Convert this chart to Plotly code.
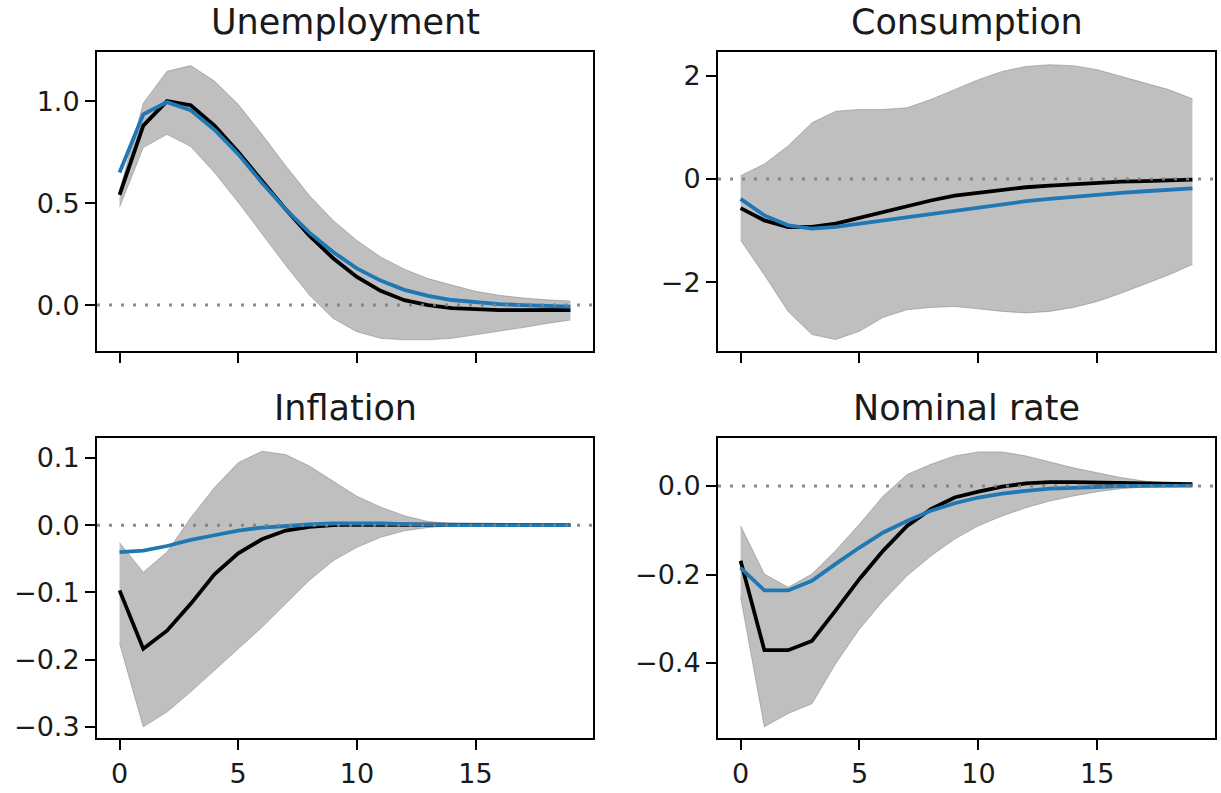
import plotly.graph_objects as go

horizon = list(range(20))

titles = ["Unemployment", "Consumption", "Inflation", "Nominal rate"]

unemp_black = [0.54, 0.88, 1.00, 0.98, 0.88, 0.75, 0.61, 0.47, 0.34, 0.23, 0.138, 0.07, 0.024, 0.0, -0.015, -0.022, -0.025, -0.025, -0.025, -0.024]
unemp_blue = [0.65, 0.935, 0.995, 0.955, 0.86, 0.74, 0.60, 0.47, 0.355, 0.26, 0.18, 0.12, 0.075, 0.045, 0.025, 0.013, 0.005, 0.0, -0.004, -0.008]
unemp_upper = [0.56, 0.99, 1.146, 1.174, 1.098, 0.984, 0.837, 0.683, 0.537, 0.415, 0.317, 0.236, 0.176, 0.13, 0.098, 0.068, 0.048, 0.035, 0.026, 0.02]
unemp_lower = [0.48, 0.772, 0.837, 0.777, 0.65, 0.504, 0.35, 0.195, 0.049, -0.065, -0.13, -0.163, -0.17, -0.17, -0.163, -0.146, -0.13, -0.11, -0.09, -0.073]

cons_black = [-0.563, -0.80, -0.928, -0.928, -0.864, -0.75, -0.627, -0.512, -0.416, -0.32, -0.27, -0.205, -0.16, -0.128, -0.10, -0.077, -0.05, -0.04, -0.026, -0.013]
cons_blue = [-0.384, -0.704, -0.896, -0.96, -0.928, -0.864, -0.80, -0.736, -0.672, -0.608, -0.544, -0.48, -0.43, -0.384, -0.34, -0.30, -0.27, -0.237, -0.205, -0.18]
cons_upper = [0.064, 0.288, 0.64, 1.088, 1.31, 1.344, 1.344, 1.376, 1.536, 1.728, 1.92, 2.08, 2.176, 2.208, 2.19, 2.112, 1.984, 1.856, 1.728, 1.549]
cons_lower = [-1.184, -1.856, -2.56, -3.008, -3.104, -2.944, -2.675, -2.528, -2.483, -2.464, -2.51, -2.56, -2.59, -2.56, -2.483, -2.368, -2.208, -2.035, -1.856, -1.651]

infl_black = [-0.097, -0.184, -0.157, -0.117, -0.073, -0.042, -0.021, -0.008, -0.0025, 0.0, 0.001, 0.001, 0.001, 0.0005, 0.0, 0.0, 0.0, 0.0, 0.0, 0.0]
infl_blue = [-0.04, -0.038, -0.031, -0.022, -0.015, -0.008, -0.0035, -0.001, 0.001, 0.0025, 0.003, 0.0025, 0.0015, 0.0005, 0.0, 0.0, 0.0, 0.0, 0.0, 0.0]
infl_upper = [-0.026, -0.07, -0.04, 0.011, 0.056, 0.093, 0.11, 0.105, 0.088, 0.066, 0.043, 0.027, 0.014, 0.0054, 0.0025, 0.001, 0.0005, 0.0, 0.0, 0.0]
infl_lower = [-0.176, -0.30, -0.278, -0.248, -0.216, -0.184, -0.152, -0.117, -0.082, -0.053, -0.033, -0.018, -0.0084, -0.0035, -0.001, -0.0005, 0.0, 0.0, 0.0, 0.0]

rate_black = [-0.169, -0.371, -0.371, -0.35, -0.281, -0.21, -0.146, -0.09, -0.0525, -0.026, -0.0128, -0.0015, 0.006, 0.009, 0.009, 0.008, 0.007, 0.005, 0.004, 0.004]
rate_blue = [-0.185, -0.236, -0.236, -0.214, -0.176, -0.139, -0.105, -0.079, -0.056, -0.039, -0.026, -0.017, -0.011, -0.006, -0.004, -0.0015, 0.0, 0.0005, 0.001, 0.001]
rate_upper = [-0.09, -0.199, -0.229, -0.199, -0.146, -0.086, -0.0225, 0.026, 0.049, 0.068, 0.077, 0.077, 0.068, 0.055, 0.041, 0.03, 0.019, 0.011, 0.007, 0.005]
rate_lower = [-0.251, -0.544, -0.514, -0.492, -0.401, -0.323, -0.259, -0.203, -0.158, -0.12, -0.09, -0.0675, -0.049, -0.034, -0.0225, -0.0128, -0.006, -0.0023, -0.001, 0.0]

y_ticks = [
    [0.0, 0.5, 1.0],
    [-2, 0, 2],
    [-0.3, -0.2, -0.1, 0.0, 0.1],
    [-0.4, -0.2, 0.0],
]
y_formats = [".1f", "d", ".1f", ".1f"]
y_ranges = [[-0.226, 1.242], [-3.33, 2.46], [-0.317, 0.13], [-0.57, 0.109]]
x_ticks = [0, 5, 10, 15]

series = [
    (unemp_black, unemp_blue, unemp_upper, unemp_lower),
    (cons_black, cons_blue, cons_upper, cons_lower),
    (infl_black, infl_blue, infl_upper, infl_lower),
    (rate_black, rate_blue, rate_upper, rate_lower),
]

W, H = 1221, 793
x_doms = [[97 / W, 593 / W], [718 / W, 1215 / W]]
y_doms = [[1 - 353 / H, 1 - 52 / H], [1 - 742 / H, 1 - 440 / H]]

fig = go.Figure()
BAND = "rgba(128,128,128,0.5)"
TICKFONT = dict(family="DejaVu Sans", size=27, color="#1a1a1a")

for i, (black, blue, upper, lower) in enumerate(series):
    sfx = "" if i == 0 else str(i + 1)
    xa, ya = "x" + sfx, "y" + sfx
    fig.add_trace(go.Scatter(x=horizon, y=lower, mode="lines", line=dict(color=BAND, width=1),
                             xaxis=xa, yaxis=ya, showlegend=False, hoverinfo="skip"))
    fig.add_trace(go.Scatter(x=horizon, y=upper, mode="lines", line=dict(color=BAND, width=1),
                             fill="tonexty", fillcolor=BAND,
                             xaxis=xa, yaxis=ya, showlegend=False, hoverinfo="skip"))
    fig.add_trace(go.Scatter(x=horizon, y=black, mode="lines", line=dict(color="black", width=3.8),
                             xaxis=xa, yaxis=ya, showlegend=False))
    fig.add_trace(go.Scatter(x=horizon, y=blue, mode="lines", line=dict(color="#1f77b4", width=3.8),
                             xaxis=xa, yaxis=ya, showlegend=False))

    row, col = divmod(i, 2)
    axis_common = dict(showline=True, mirror=True, linecolor="black", linewidth=2,
                       ticks="outside", ticklen=10, tickwidth=2, tickcolor="black",
                       showgrid=False, zeroline=False, tickfont=TICKFONT)
    fig.layout["xaxis" + sfx] = dict(domain=x_doms[col], anchor=ya, range=[-0.95, 19.95],
                                     tickmode="array", tickvals=x_ticks,
                                     showticklabels=(row == 1), **axis_common)
    fig.layout["yaxis" + sfx] = dict(domain=y_doms[row], anchor=xa, range=y_ranges[i],
                                     tickmode="array", tickvals=y_ticks[i], tickformat=y_formats[i],
                                     **axis_common)
    fig.add_shape(type="line", xref=xa + " domain", yref=ya, x0=0, x1=1, y0=0, y1=0,
                  line=dict(color="rgba(128,128,128,0.9)", width=3, dash="3px,9px"), layer="above")
    fig.add_annotation(text=titles[i], xref=xa + " domain", yref=ya + " domain", x=0.5, y=1,
                       xanchor="center", yanchor="bottom", yshift=8, showarrow=False,
                       font=dict(family="DejaVu Sans", size=35, color="#1a1a1a"))

fig.update_layout(width=W, height=H, autosize=False, margin=dict(l=0, r=0, t=0, b=0),
                  paper_bgcolor="white", plot_bgcolor="white", showlegend=False)

fig.write_html("out.html")
